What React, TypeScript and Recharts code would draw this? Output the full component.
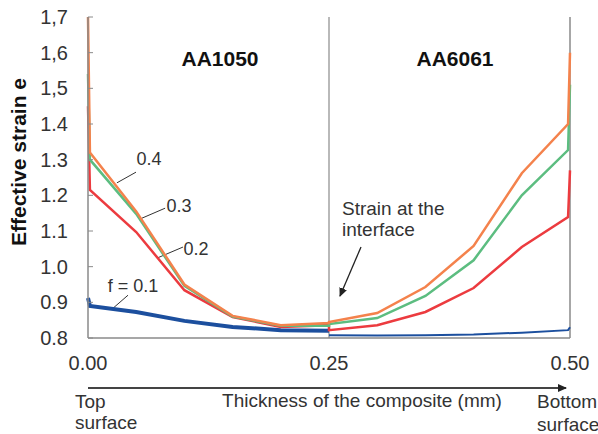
import { LineChart, Line, XAxis, YAxis, ReferenceLine } from "recharts";

// thickness positions (mm); 0.25 appears twice: AA1050 side, then AA6061 side
const thickness = [0, 0.002, 0.05, 0.1, 0.15, 0.2, 0.25, 0.25, 0.3, 0.35, 0.4, 0.45, 0.498, 0.5];

const f01 = [0.912, 0.89, 0.873, 0.848, 0.831, 0.822, 0.82, 0.808, 0.807, 0.808, 0.81, 0.815, 0.822, 0.83];
const f02 = [1.45, 1.215, 1.097, 0.934, 0.859, 0.831, 0.836, 0.822, 0.836, 0.873, 0.94, 1.055, 1.139, 1.27];
const f03 = [1.54, 1.3, 1.148, 0.946, 0.86, 0.834, 0.834, 0.839, 0.856, 0.918, 1.018, 1.2, 1.327, 1.51];
const f04 = [1.7, 1.32, 1.155, 0.95, 0.862, 0.836, 0.842, 0.845, 0.87, 0.943, 1.058, 1.262, 1.4, 1.6];

const yTicks = [0.8, 0.9, 1.0, 1.1, 1.2, 1.3, 1.4, 1.5, 1.6, 1.7];
const yTickLabels = ["0.8", "0.9", "1.0", "1.1", "1.2", "1.3", "1.4", "1,5", "1,6", "1,7"];
const xTicks = [0, 0.25, 0.5];
const xTickLabels = ["0.00", "0.25", "0.50"];

const interfaceIdx = 6;

const data = thickness.map((x, i) => ({
  x,
  blueTop: i <= interfaceIdx ? f01[i] : null,
  blueBottom: i > interfaceIdx ? f01[i] : null,
  f02: f02[i],
  f03: f03[i],
  f04: f04[i],
}));

const FONT = '"Liberation Sans", Arial, sans-serif';
const GRID = "#8a8a8a";
const TEXT = "#333";

export default function App() {
  return (
    <div style={{ position: "absolute", left: 0, top: 0, width: 598, height: 434, background: "#fff", fontFamily: FONT }}>
      <LineChart width={598} height={434} data={data} margin={{ top: 17, right: 28, left: 0, bottom: 66 }}>
        <XAxis
          dataKey="x"
          type="number"
          domain={[0, 0.5]}
          ticks={xTicks}
          tickFormatter={(v: number) => xTickLabels[xTicks.indexOf(v)] ?? ""}
          tickLine={false}
          tickSize={0}
          tickMargin={18}
          height={30}
          axisLine={{ stroke: GRID, strokeWidth: 1.5 }}
          tick={{ fill: TEXT, fontSize: 20, fontFamily: FONT }}
        />
        <YAxis
          type="number"
          domain={[0.8, 1.7]}
          ticks={yTicks}
          width={88}
          tickSize={-5}
          tickMargin={25}
          tickFormatter={(v: number) => yTickLabels[yTicks.findIndex((t) => Math.abs(t - v) < 1e-6)] ?? ""}
          axisLine={{ stroke: GRID, strokeWidth: 1.5 }}
          tickLine={{ stroke: GRID }}
          tick={{ fill: TEXT, fontSize: 20, fontFamily: FONT }}
        />
        <ReferenceLine x={0.25} stroke={GRID} strokeWidth={1.2} />
        <ReferenceLine x={0.5} stroke={GRID} strokeWidth={1.5} />
        {/* leader lines for the f labels */}
        <ReferenceLine segment={[{ x: 0.0498, y: 1.265 }, { x: 0.03, y: 1.235 }]} stroke="#333" strokeWidth={1} />
        <ReferenceLine segment={[{ x: 0.08, y: 1.164 }, { x: 0.056, y: 1.136 }]} stroke="#333" strokeWidth={1} />
        <ReferenceLine segment={[{ x: 0.0985, y: 1.055 }, { x: 0.0716, y: 1.024 }]} stroke="#333" strokeWidth={1} />
        <ReferenceLine segment={[{ x: 0.0415, y: 0.92 }, { x: 0.0249, y: 0.881 }]} stroke="#333" strokeWidth={1} />
        <Line dataKey="blueTop" stroke="#1c4f9e" strokeWidth={4} dot={false} isAnimationActive={false} connectNulls={false} />
        <Line dataKey="blueBottom" stroke="#1c4f9e" strokeWidth={2} dot={false} isAnimationActive={false} connectNulls={false} />
        <Line dataKey="f02" stroke="#ec3b3f" strokeWidth={2.5} dot={false} isAnimationActive={false} />
        <Line dataKey="f03" stroke="#5cbd80" strokeWidth={2.5} dot={false} isAnimationActive={false} />
        <Line dataKey="f04" stroke="#f4824c" strokeWidth={2.5} dot={false} isAnimationActive={false} />
      </LineChart>
      <svg width={598} height={434} style={{ position: "absolute", left: 0, top: 0, pointerEvents: "none" }} fontFamily={FONT}>
        <defs>
          <marker id="arr" markerWidth="10" markerHeight="10" refX="8" refY="5" orient="auto" markerUnits="userSpaceOnUse">
            <path d="M0,1 L9,5 L0,9 Z" fill="#222" />
          </marker>
        </defs>
        <text x={18} y={162} transform="rotate(-90 18 162)" textAnchor="middle" dominantBaseline="central" fontSize={21} fontWeight="bold" fill="#111">
          Effective strain e
        </text>
        <text x={220} y={66} textAnchor="middle" fontSize={21} fontWeight="bold" fill="#111">AA1050</text>
        <text x={455} y={66} textAnchor="middle" fontSize={21} fontWeight="bold" fill="#111">AA6061</text>
        <text x={149} y={165} textAnchor="middle" fontSize={18} fill={TEXT}>0.4</text>
        <text x={179} y={212} textAnchor="middle" fontSize={18} fill={TEXT}>0.3</text>
        <text x={196} y={255} textAnchor="middle" fontSize={18} fill={TEXT}>0.2</text>
        <text x={133} y={292} textAnchor="middle" fontSize={18} fill={TEXT}>f = 0.1</text>
        <text x={342} y={215} fontSize={19} fill={TEXT}>Strain at the</text>
        <text x={342} y={236} fontSize={19} fill={TEXT}>interface</text>
        <line x1={361} y1={247} x2={340} y2={296} stroke="#222" strokeWidth={1.3} markerEnd="url(#arr)" />
        <line x1={88} y1={388} x2={566} y2={388} stroke="#444" strokeWidth={2} markerEnd="url(#arr)" />
        <text x={362} y={407} textAnchor="middle" fontSize={19} fill={TEXT}>Thickness of the composite (mm)</text>
        <text x={75} y={408} fontSize={19} fill={TEXT}>Top</text>
        <text x={75} y={429} fontSize={19} fill={TEXT}>surface</text>
        <text x={537} y={408} fontSize={19} fill={TEXT}>Bottom</text>
        <text x={537} y={431} fontSize={19} fill={TEXT}>surface</text>
      </svg>
    </div>
  );
}
